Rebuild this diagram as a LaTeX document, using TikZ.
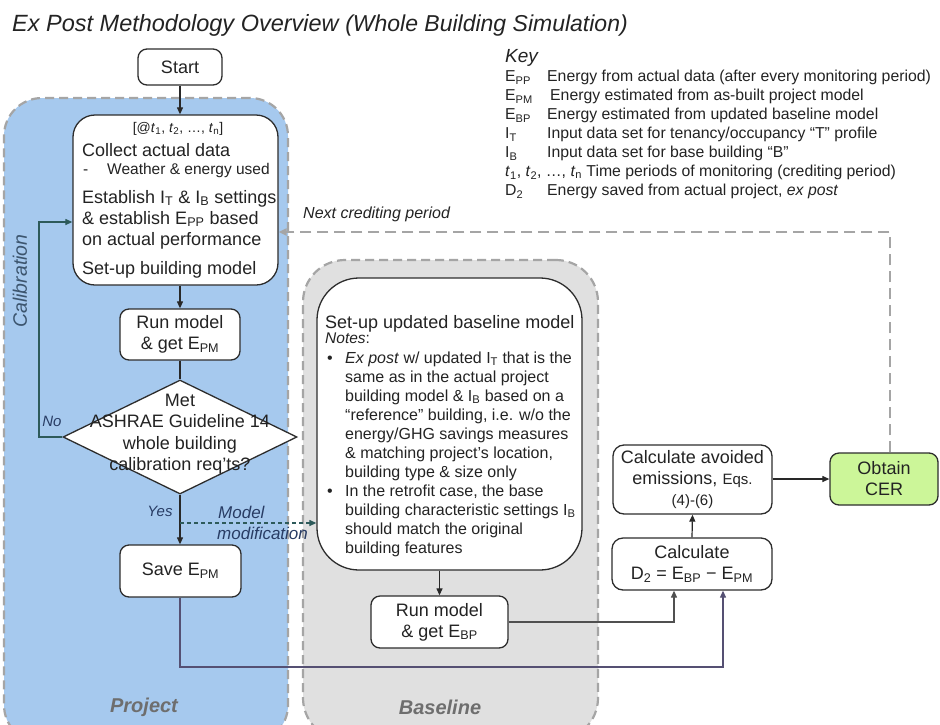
\documentclass[tikz,border=0pt]{standalone}
\usepackage{fontspec}
\setmainfont{Liberation Sans}
\usetikzlibrary{arrows.meta,shapes.geometric,calc}
\definecolor{bluefill}{RGB}{166,201,238}
\definecolor{grayfill}{RGB}{224,224,224}
\definecolor{regionline}{RGB}{165,165,165}
\definecolor{cergreen}{RGB}{204,246,153}
\definecolor{boxc}{RGB}{45,45,45}
\definecolor{txtc}{RGB}{35,35,35}
\definecolor{linec}{RGB}{40,40,40}
\definecolor{calibc}{RGB}{45,90,90}
\definecolor{savec}{RGB}{85,80,115}
\definecolor{lblc}{RGB}{40,60,100}
\definecolor{regtxt}{RGB}{110,110,110}
\definecolor{callblc}{RGB}{60,85,110}
\definecolor{ebpline}{RGB}{80,80,80}
\newcommand\fsz[2]{\fontsize{#1}{#2}\selectfont}
\newcommand\sub[1]{\textsubscript{#1}}
\tikzset{
  regionbox/.style={draw=regionline, line width=2.2pt, dash pattern=on 9pt off 5pt, inner sep=0pt},
  box/.style={draw=boxc, line width=1.3pt, fill=white, rounded corners=9pt, inner sep=0pt,
              align=center, text=txtc, font=\fsz{18}{21}},
  conn/.style={line width=1.2pt, draw=linec, -{Triangle[length=7pt,width=6pt]}},
  plain/.style={line width=1.2pt, draw=linec},
  txt/.style={inner sep=0pt, anchor=base west, text=txtc, font=\fsz{18}{21}},
  keytxt/.style={inner sep=0pt, anchor=base west, text=txtc, font=\fsz{15.8}{18}},
  notetxt/.style={inner sep=0pt, anchor=base west, text=txtc, font=\fsz{16}{19}},
  lbl/.style={inner sep=0pt, text=lblc, font=\fsz{15}{18}\itshape},
}
\begin{document}
\begin{tikzpicture}[x=1pt,y=-1pt]
\useasboundingbox (0,0) rectangle (940,724);
\clip (0,0) rectangle (940,724);
\fill[white] (0,0) rectangle (940,724);

% regions
\node[regionbox, fill=bluefill, rounded corners=38pt, minimum width=284, minimum height=645] (proj) at (146,420.5) {};
\node[regionbox, fill=grayfill, rounded corners=42pt, minimum width=295, minimum height=480] (base) at (450.5,500) {};
\node[inner sep=0pt, text=regtxt, font=\fsz{20}{24}\bfseries\itshape] (projlbl) at (144,707) {Project};
\node[inner sep=0pt, text=regtxt, font=\fsz{20}{24}\bfseries\itshape] (baselbl) at (440,707) {Baseline};

% title
\node[inner sep=0pt, anchor=base west, text=txtc] (title) at (12,31)
  {\fsz{23.5}{26}\itshape Ex Post Methodology Overview \fsz{23}{26}(Whole Building Simulation)};

% key
\node[inner sep=0pt, anchor=base west, text=txtc, font=\fsz{19}{22}\itshape] (key) at (505,62) {Key};
\node[keytxt] (k1) at (505,81.5) {E\sub{PP}};
\node[keytxt] (k1d) at (547,81.5) {Energy from actual data (after every monitoring period)};
\node[keytxt] (k2) at (505,100.5) {E\sub{PM}};
\node[keytxt] (k2d) at (550,100.5) {Energy estimated from as-built project model};
\node[keytxt] (k3) at (505,119.5) {E\sub{BP}};
\node[keytxt] (k3d) at (547,119.5) {Energy estimated from updated baseline model};
\node[keytxt] (k4) at (505,138.5) {I\sub{T}};
\node[keytxt] (k4d) at (547,138.5) {Input data set for tenancy/occupancy “T” profile};
\node[keytxt] (k5) at (505,157.5) {I\sub{B}};
\node[keytxt] (k5d) at (547,157.5) {Input data set for base building “B”};
\node[keytxt] (k6) at (505,176.5) {\textit{t}\sub{1}, \textit{t}\sub{2}, …, \textit{t}\sub{n} Time periods of monitoring (crediting period)};
\node[keytxt] (k7) at (505,195.5) {D\sub{2}};
\node[keytxt] (k7d) at (547,195.5) {Energy saved from actual project, \textit{ex post}};

% project boxes
\node[box, minimum width=84, minimum height=36] (start) at (180,67) {Start};
\node[box, rounded corners=22pt, minimum width=205, minimum height=170] (collect) at (175.5,200) {};
\node[inner sep=0pt, anchor=base, text=txtc, font=\fsz{14}{16}] (c0) at (178,132) {[@\textit{t}\sub{1}, \textit{t}\sub{2}, …, \textit{t}\sub{n}]};
\node[txt] (c1) at (82,156) {Collect actual data};
\node[txt, font=\fsz{15.5}{18}] (c2) at (83,174) {-};
\node[txt, font=\fsz{15.5}{18}] (c2b) at (107,174) {Weather \& energy used};
\node[txt] (c3) at (82,203) {Establish I\sub{T} \& I\sub{B} settings};
\node[txt] (c4) at (82,224) {\& establish E\sub{PP} based};
\node[txt] (c5) at (82,245) {on actual performance};
\node[txt] (c6) at (82,274) {Set-up building model};

\node[box, minimum width=120, minimum height=51] (run1) at (180,334.5) {Run model\\\& get E\sub{PM}};
\node[diamond, draw=boxc, line width=1.3pt, fill=white, inner sep=0pt, minimum width=234, minimum height=114] (dia) at (180,437) {};
\node[inner sep=0pt, align=center, text=txtc, font=\fsz{18}{21.5}] (diatext) at (180,434) {Met\\ASHRAE Guideline 14\\whole building\\calibration req’ts?};
\node[box, minimum width=121, minimum height=52] (save) at (180.5,571) {Save E\sub{PM}};

% baseline boxes
\node[box, rounded corners=42pt, minimum width=265, minimum height=292] (setup) at (449.5,424) {};
\node[txt] (s0) at (325,328) {Set-up updated baseline model};
\node[notetxt, font=\fsz{15.5}{18}] (s1) at (325,343) {\textit{Notes}:};
\node[notetxt] (b1) at (327,363) {•};
\node[notetxt] (s2) at (345,363) {\textit{Ex post} w/ updated I\sub{T} that is the};
\node[notetxt] (s3) at (345,382) {same as in the actual project};
\node[notetxt] (s4) at (345,401) {building model \& I\sub{B} based on a};
\node[notetxt] (s5) at (345,420) {“reference” building, i.e. w/o the};
\node[notetxt] (s6) at (345,439) {energy/GHG savings measures};
\node[notetxt] (s7) at (345,458) {\& matching project’s location,};
\node[notetxt] (s8) at (345,477) {building type \& size only};
\node[notetxt] (b2) at (327,496) {•};
\node[notetxt] (s9) at (345,496) {In the retrofit case, the base};
\node[notetxt] (s10) at (345,515) {building characteristic settings I\sub{B}};
\node[notetxt] (s11) at (345,534) {should match the original};
\node[notetxt] (s12) at (345,553) {building features};
\node[box, minimum width=137, minimum height=52] (run2) at (439.5,622) {Run model\\\& get E\sub{BP}};

% right boxes
\node[box, rounded corners=11pt, minimum width=159, minimum height=69] (avoid) at (692.5,479.5)
  {Calculate avoided\\emissions, {\fsz{15}{21}Eqs.}\\{\fsz{15}{18}(4)-(6)}};
\node[box, rounded corners=11pt, minimum width=160, minimum height=52] (d2) at (692,564)
  {Calculate\\D\sub{2} = E\sub{BP} − E\sub{PM}};
\node[box, fill=cergreen, rounded corners=9pt, minimum width=108, minimum height=52] (cer) at (884,479) {Obtain\\CER};

% connectors
\draw[conn] (start.south) -- (start.south |- collect.north);
\draw[conn] (run1.north |- collect.south) -- (run1.north);
\draw[plain] (run1.south) -- (dia.north);
\draw[conn] (dia.south) -- (dia.south |- save.north);
\coordinate (nob) at (39,437);
\coordinate (not) at (39,222);
\draw[line width=1.2pt, draw=calibc, -{Triangle[length=7pt,width=6pt]}] (dia.west) -- (nob) -- (not) -- (collect.west |- not);
\node[lbl] (nolbl) at (52,421) {No};
\node[inner sep=0pt, rotate=90, text=callblc, font=\fsz{19.5}{22}\itshape] (callbl) at (20,281) {Calibration};
\node[lbl] (yeslbl) at (160,511) {Yes};
\coordinate (mm) at (180,523);
\draw[line width=1.2pt, draw=calibc, dash pattern=on 4pt off 3pt, -{Triangle[length=7pt,width=6pt]}] (mm) -- (setup.west |- mm);
\node[inner sep=0pt, anchor=base west, text=lblc, font=\fsz{17}{20}\itshape] (mlbl1) at (218,518) {Model};
\node[inner sep=0pt, anchor=base west, text=lblc, font=\fsz{17}{20}\itshape] (mlbl2) at (217,539) {modification};
\draw[conn] (setup.south -| run2.north) -- (run2.north);
\draw[conn, draw=ebpline] (run2.east) -| ($(d2.south)+(-18,0)$);
\coordinate (sv) at (180,667);
\draw[conn, draw=savec] (save.south -| sv) -- (sv) -| ($(d2.south)+(31,0)$);
\draw[conn] (d2.north) -- (avoid.south);
\draw[conn] (avoid.east |- cer.west) -- (cer.west);
\coordinate (nc) at (890,232);
\draw[line width=2.4pt, draw=regionline, dash pattern=on 11pt off 6pt, -{Triangle[length=8pt,width=7pt]}] (cer.north -| nc) -- (nc) -- (collect.east |- nc);
\node[inner sep=0pt, anchor=base west, text=txtc, font=\fsz{16}{19}\itshape] (nclbl) at (303,218) {Next crediting period};
\end{tikzpicture}
\end{document}
